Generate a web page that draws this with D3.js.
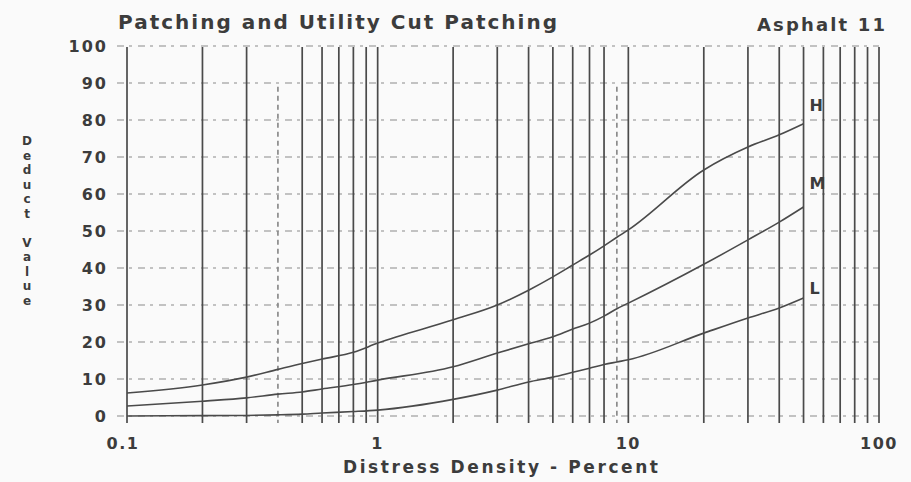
<!DOCTYPE html>
<html>
<head>
<meta charset="utf-8">
<script src="https://cdn.jsdelivr.net/npm/d3@7"></script>
<style>
  html, body { margin: 0; padding: 0; background: #fafafa; }
  svg { display: block; }
  text { font-family: "DejaVu Sans", "Liberation Sans", sans-serif; font-weight: bold; fill: #3c3c3c; }
</style>
</head>
<body>
<script>
// distress density (percent) where the curves were read
const density = [0.1, 0.2, 0.3, 0.4, 0.5, 0.6, 0.8, 1, 2, 3, 4, 5, 6, 7, 8, 9, 10, 20, 30, 40, 50];

// deduct values, one list per severity
const high   = [6.2, 8.4, 10.5, 12.6, 14.2, 15.4, 17.2, 19.7, 26, 30, 34, 37.6, 40.8, 43.5, 46, 48.3, 50.3, 66.5, 72.7, 76, 79];
const medium = [2.7, 4, 4.9, 5.9, 6.5, 7.3, 8.5, 9.7, 13.3, 17, 19.5, 21.4, 23.5, 25.1, 27, 29, 30.5, 41, 47.6, 52.4, 56.5];
const low    = [0, 0.1, 0.15, 0.3, 0.5, 0.8, 1.2, 1.6, 4.5, 7, 9.2, 10.5, 11.8, 12.9, 13.9, 14.6, 15.2, 22.4, 26.5, 29.2, 31.9];

const severityNames = ['H', 'M', 'L'];
const severityLabelAt = [84, 63, 34.5];   // label height in deduct units
const dashedLines = [0.4, 9];             // faint broken grid lines on the sheet
const xTickLabels = [0.1, 1, 10, 100];

const W = 911, H = 482;

const svg = d3.select("body").append("svg")
  .attr("width", W)
  .attr("height", H);

const x = d3.scaleLog().domain([0.1, 100]).range([127, 879]);
const y = d3.scaleLinear().domain([0, 100]).range([416, 46]);

// horizontal grid (dashed, faint)
svg.append("g").selectAll("line")
  .data(y.ticks(10))
  .enter()
  .append("line")
  .attr("x1", 117)
  .attr("x2", x(100))
  .attr("y1", d => y(d))
  .attr("y2", d => y(d))
  .attr("stroke", "#8a8a8a")
  .attr("stroke-width", 1.2)
  .attr("stroke-dasharray", "7,5,3,6");

// vertical grid
svg.append("g").selectAll("line")
  .data(x.ticks())
  .enter()
  .append("line")
  .attr("x1", d => x(d))
  .attr("x2", d => x(d))
  .attr("y1", d => dashedLines.includes(d) ? y(89) : y(100) + 1)
  .attr("y2", y(0) + 7)
  .attr("stroke", d => dashedLines.includes(d) ? "#8c8c8c" : "#4a4a4a")
  .attr("stroke-width", 1.7)
  .attr("stroke-dasharray", d => dashedLines.includes(d) ? "5,4" : null);

// curves
const line = d3.line()
  .x((d, i) => x(density[i]))
  .y(d => y(d))
  .curve(d3.curveMonotoneX);

const series = [high, medium, low];

svg.append("g").selectAll("path")
  .data(series)
  .enter()
  .append("path")
  .attr("d", d => line(d))
  .attr("fill", "none")
  .attr("stroke", "#4a4a4a")
  .attr("stroke-width", 1.6);

svg.append("g").selectAll("text")
  .data(severityNames)
  .enter()
  .append("text")
  .attr("x", x(50) + 6)
  .attr("y", (d, i) => y(severityLabelAt[i]))
  .attr("dy", "0.35em")
  .attr("font-size", 16)
  .text(d => d);

// y tick labels
svg.append("g").selectAll("text")
  .data(y.ticks(10))
  .enter()
  .append("text")
  .attr("x", 108)
  .attr("y", d => y(d))
  .attr("dy", "0.36em")
  .attr("text-anchor", "end")
  .attr("font-size", 16)
  .attr("letter-spacing", 2)
  .text(d => d);

// x tick labels
svg.append("g").selectAll("text")
  .data(xTickLabels)
  .enter()
  .append("text")
  .attr("x", d => x(d) - (d === 0.1 ? 4 : 0))
  .attr("y", 449)
  .attr("text-anchor", "middle")
  .attr("font-size", 16)
  .attr("letter-spacing", 1.5)
  .text(d => d);

// titles
svg.append("text")
  .attr("x", 118)
  .attr("y", 29)
  .attr("font-size", 20)
  .attr("textLength", 439)
  .attr("lengthAdjust", "spacing")
  .text("Patching and Utility Cut Patching");

svg.append("text")
  .attr("x", 757)
  .attr("y", 31)
  .attr("font-size", 18)
  .attr("textLength", 128)
  .attr("lengthAdjust", "spacing")
  .text("Asphalt 11");

svg.append("text")
  .attr("x", 343)
  .attr("y", 473)
  .attr("font-size", 17)
  .attr("textLength", 315)
  .attr("lengthAdjust", "spacing")
  .text("Distress Density - Percent");

// vertical y title, one letter under the other
const yTitle = "Deduct Value".split("");
svg.append("g").selectAll("text")
  .data(yTitle)
  .enter()
  .append("text")
  .attr("x", 27)
  .attr("y", (d, i) => 141 + i * 14.5)
  .attr("dy", "0.35em")
  .attr("text-anchor", "middle")
  .attr("font-size", 12)
  .text(d => d);
</script>
</body>
</html>
